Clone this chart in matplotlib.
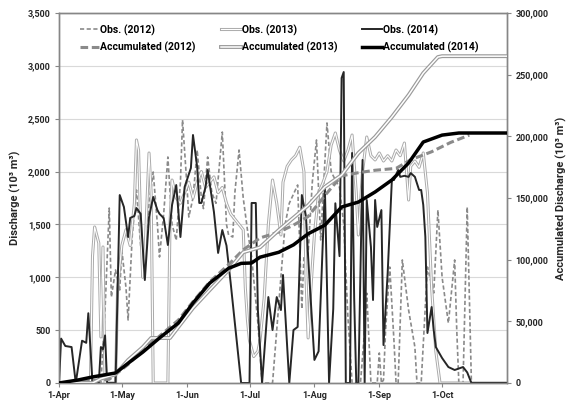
import matplotlib
matplotlib.use("Agg")
import matplotlib.pyplot as plt
from matplotlib.ticker import FuncFormatter, MultipleLocator

# days counted from 1-Apr (day 0)
obs12_days = [0, 20, 22, 24, 25, 27, 29, 30, 32, 33, 35, 37, 39, 41, 43, 45, 47, 48, 50, 52, 54, 56, 58, 59,
              61, 62, 64, 66, 68, 69, 71, 73, 75, 78, 80, 81, 83, 84, 86, 88, 90, 92, 95, 97, 102, 104, 106, 108,
              110, 114, 116, 117, 119, 121, 123, 125, 128, 130, 132, 134, 136, 138, 140, 144, 146, 147, 149, 152,
              153, 154, 155, 156, 158, 160, 161, 162, 164, 167, 170, 171, 173, 176, 179, 181, 183, 186, 189, 190,
              191, 193, 195, 197]
obs12_vals = [0, 0, 700, 1655, 813, 1069, 880, 1258, 900, 596, 1400, 1826, 1300, 1150, 1700, 1996, 1500, 1192,
              1600, 2138, 1500, 1350, 1900, 2488, 1900, 1570, 1750, 2204, 1750, 1650, 2138, 1800, 1700, 2374, 1500,
              1400, 1381, 1800, 2204, 1750, 1450, 1192, 567, 0, 0, 500, 1003, 1500, 1700, 1873, 700, 1200, 1230,
              1900, 2299, 1353, 2460, 2000, 1920, 1850, 1500, 624, 0, 0, 500, 850, 0, 0, 284, 0, 28, 500, 1097,
              400, 0, 0, 1164, 690, 340, 0, 0, 1097, 851, 1636, 1000, 567, 1164, 500, 0, 0, 1665, 0]

obs13_days = [0, 15, 16, 17, 18, 19, 20, 21, 22, 27, 28, 30, 32, 34, 36, 37, 38, 39, 40, 41, 42, 43, 44, 45,
              52, 53, 54, 56, 58, 60, 62, 64, 66, 68, 70, 72, 74, 76, 78, 80, 82, 84, 86, 88, 89, 90, 91, 93,
              95, 96, 98, 100, 102, 104, 106, 107, 109, 111, 113, 115, 117, 118, 119, 120, 122, 124, 126, 128,
              130, 132, 134, 136, 138, 140, 142, 143, 145, 147, 149, 151, 153, 155, 157, 159, 161, 163, 165, 167,
              168, 170, 172, 174, 176, 178, 180, 182, 214]
obs13_vals = [0, 0, 1200, 1476, 1400, 1324, 435, 1287, 0, 0, 900, 1300, 1450, 1300, 1700, 2299, 2200, 1500,
              1000, 1200, 1700, 2176, 1800, 0, 0, 1500, 1920, 1750, 1700, 1800, 1900, 1750, 1900, 2000, 1850,
              1900, 1950, 1800, 1850, 1700, 1600, 1550, 1500, 1450, 900, 600, 400, 250, 300, 400, 800, 1500,
              1920, 1700, 1400, 1900, 2050, 2110, 2150, 2230, 2000, 1000, 426, 800, 1400, 1800, 1890, 2000,
              2250, 2365, 2200, 2100, 2200, 2346, 1800, 1400, 2000, 2327, 2150, 2110, 2176, 2100, 2150, 2100,
              2204, 2150, 2270, 1731, 2050, 2100, 2040, 2176, 1800, 900, 300, 0, 0]

obs14_days = [0, 1, 3, 6, 8, 11, 13, 14, 16, 19, 20, 21, 22, 23, 27, 29, 31, 33, 34, 36, 37, 39, 41, 43, 45,
              47, 48, 50, 52, 54, 56, 58, 60, 63, 64, 66, 67, 68, 70, 71, 74, 76, 78, 80, 82, 84, 87, 91, 92,
              94, 95, 97, 100, 102, 104, 106, 107, 110, 112, 114, 116, 118, 119, 122, 124, 125, 127, 129, 131,
              132, 134, 135, 136, 137, 139, 140, 141, 142, 143, 145, 146, 147, 149, 150, 151, 152, 154, 155,
              157, 159, 160, 162, 163, 165, 167, 168, 170, 172, 173, 174, 175, 176, 178, 179, 180, 183, 186,
              189, 193, 195, 197, 214]
obs14_vals = [0, 420, 350, 340, 0, 400, 380, 660, 0, 0, 340, 320, 450, 0, 0, 1778, 1665, 1381, 1561, 1580,
              1655, 1600, 974, 1570, 1760, 1636, 1600, 1560, 1305, 1684, 1873, 1381, 1854, 2034, 2346, 2043,
              1703, 1703, 1854, 2015, 1618, 1230, 1447, 1300, 946, 567, 0, 0, 1703, 1703, 690, 0, 813, 501,
              813, 690, 1022, 0, 501, 530, 1778, 1570, 1192, 218, 300, 800, 1854, 0, 700, 1700, 1200, 2885,
              2942, 0, 0, 2176, 800, 0, 0, 2110, 0, 1731, 1287, 785, 1731, 1476, 1636, 359, 1041, 1920, 1920,
              2015, 1950, 1960, 1950, 1986, 1950, 1826, 1826, 1684, 1381, 473, 719, 500, 340, 236, 151, 123,
              151, 100, 0, 0]

acc12_days = [0, 24, 33, 40, 48, 57, 64, 72, 81, 88, 96, 105, 112, 119, 127, 135, 143, 151, 161, 168, 178,
              187, 196]
acc12_vals = [0, 3000, 15000, 27000, 38000, 51000, 66000, 82000, 96000, 108000, 117600, 122400, 128000,
              135000, 152000, 168000, 170500, 172500, 174000, 181000, 187500, 195000, 201000]

acc13_days = [0, 16, 20, 27, 33, 40, 44, 53, 57, 64, 72, 81, 88, 96, 105, 112, 119, 127, 135, 143, 151, 159,
              167, 174, 181, 183, 214]
acc13_vals = [0, 0, 3500, 7000, 18600, 29000, 36500, 36500, 45400, 60800, 75400, 91600, 106000, 110000,
              124000, 134000, 144000, 159000, 168600, 186500, 199500, 215700, 233500, 251300, 264300, 265000,
              265000]

acc14_days = [0, 9, 16, 27, 33, 40, 48, 57, 64, 72, 81, 87, 92, 96, 105, 112, 119, 127, 135, 143, 151, 159,
              167, 174, 183, 191, 214]
acc14_vals = [0, 2400, 4900, 8100, 16000, 25000, 36500, 48600, 64800, 81000, 93000, 97000, 97300, 102000,
              106000, 112000, 121000, 128000, 142700, 146700, 154900, 164600, 178400, 195400, 201000, 202700,
              202700]

month_days = [0, 30, 61, 91, 122, 153, 183]
month_labels = ["1-Apr", "1-May", "1-Jun", "1-Jul", "1-Aug", "1-Sep", "1-Oct"]

plt.rcParams['font.family'] = ['Roboto', 'DejaVu Sans']
plt.rcParams['font.weight'] = 'bold'

fig = plt.figure(figsize=(5.68, 4.04), dpi=100)
ax = fig.add_axes([0.1039, 0.052, 0.7887, 0.9158])
ax2 = ax.twinx()

gray = "#8a8a8a"
light = "#aaaaaa"
dark = "#262626"

# observations (left axis)
h_o12, = ax.plot(obs12_days, obs12_vals, color=gray, lw=1.2, dashes=(2.5, 1.5), zorder=3)
h_o13a, = ax.plot(obs13_days, obs13_vals, color=light, lw=2.2, zorder=4)
h_o13b, = ax.plot(obs13_days, obs13_vals, color="white", lw=0.8, zorder=4)
h_o14, = ax.plot(obs14_days, obs14_vals, color=dark, lw=1.4, zorder=5)

# accumulated (right axis)
h_a12, = ax2.plot(acc12_days, acc12_vals, color=gray, lw=2.2, dashes=(2.5, 1.2), zorder=3)
h_a13a, = ax2.plot(acc13_days, acc13_vals, color="#9a9a9a", lw=2.8, zorder=4)
h_a13b, = ax2.plot(acc13_days, acc13_vals, color="white", lw=1.1, zorder=4)
h_a14, = ax2.plot(acc14_days, acc14_vals, color="black", lw=2.5, zorder=5)

ax.set_xlim(0, 214)
ax.set_ylim(0, 3500)
ax2.set_ylim(0, 300000)
ax.yaxis.set_major_locator(MultipleLocator(500))
ax2.yaxis.set_major_locator(MultipleLocator(50000))
fmt = FuncFormatter(lambda v, p: f"{int(v):,}")
ax.yaxis.set_major_formatter(fmt)
ax2.yaxis.set_major_formatter(fmt)
ax.set_xticks(month_days)
ax.set_xticklabels(month_labels)

ax.grid(axis='y', color="#d9d9d9", lw=0.8)
ax.set_axisbelow(True)
for a in (ax, ax2):
    for s in a.spines.values():
        s.set_color("#868686")
        s.set_linewidth(1.0)
    a.tick_params(colors="#868686", labelcolor="#262626", labelsize=6.5, length=3, width=0.8, pad=3)
    for t in a.get_xticklabels() + a.get_yticklabels():
        t.set_fontweight('bold')

ax.set_ylabel("Discharge (10³ m³)", fontsize=8, fontweight='bold', color="#262626", labelpad=5)
ax2.set_ylabel("Accumulated Discharge (10³ m³)", fontsize=8, fontweight='bold', color="#262626", labelpad=5)

handles = [h_o12, h_a12, (h_o13a, h_o13b), (h_a13a, h_a13b), h_o14, h_a14]
labels = ["Obs. (2012)", "Accumulated (2012)", "Obs. (2013)", "Accumulated (2013)",
          "Obs. (2014)", "Accumulated (2014)"]
leg = ax2.legend(handles, labels, ncol=3, loc="upper left", bbox_to_anchor=(0.025, 0.995), frameon=False,
                 prop={'size': 7.5, 'weight': 'bold'}, handlelength=1.9, handletextpad=0.1,
                 columnspacing=2.4, labelspacing=0.62)

fig.savefig("out.png", dpi=100)
